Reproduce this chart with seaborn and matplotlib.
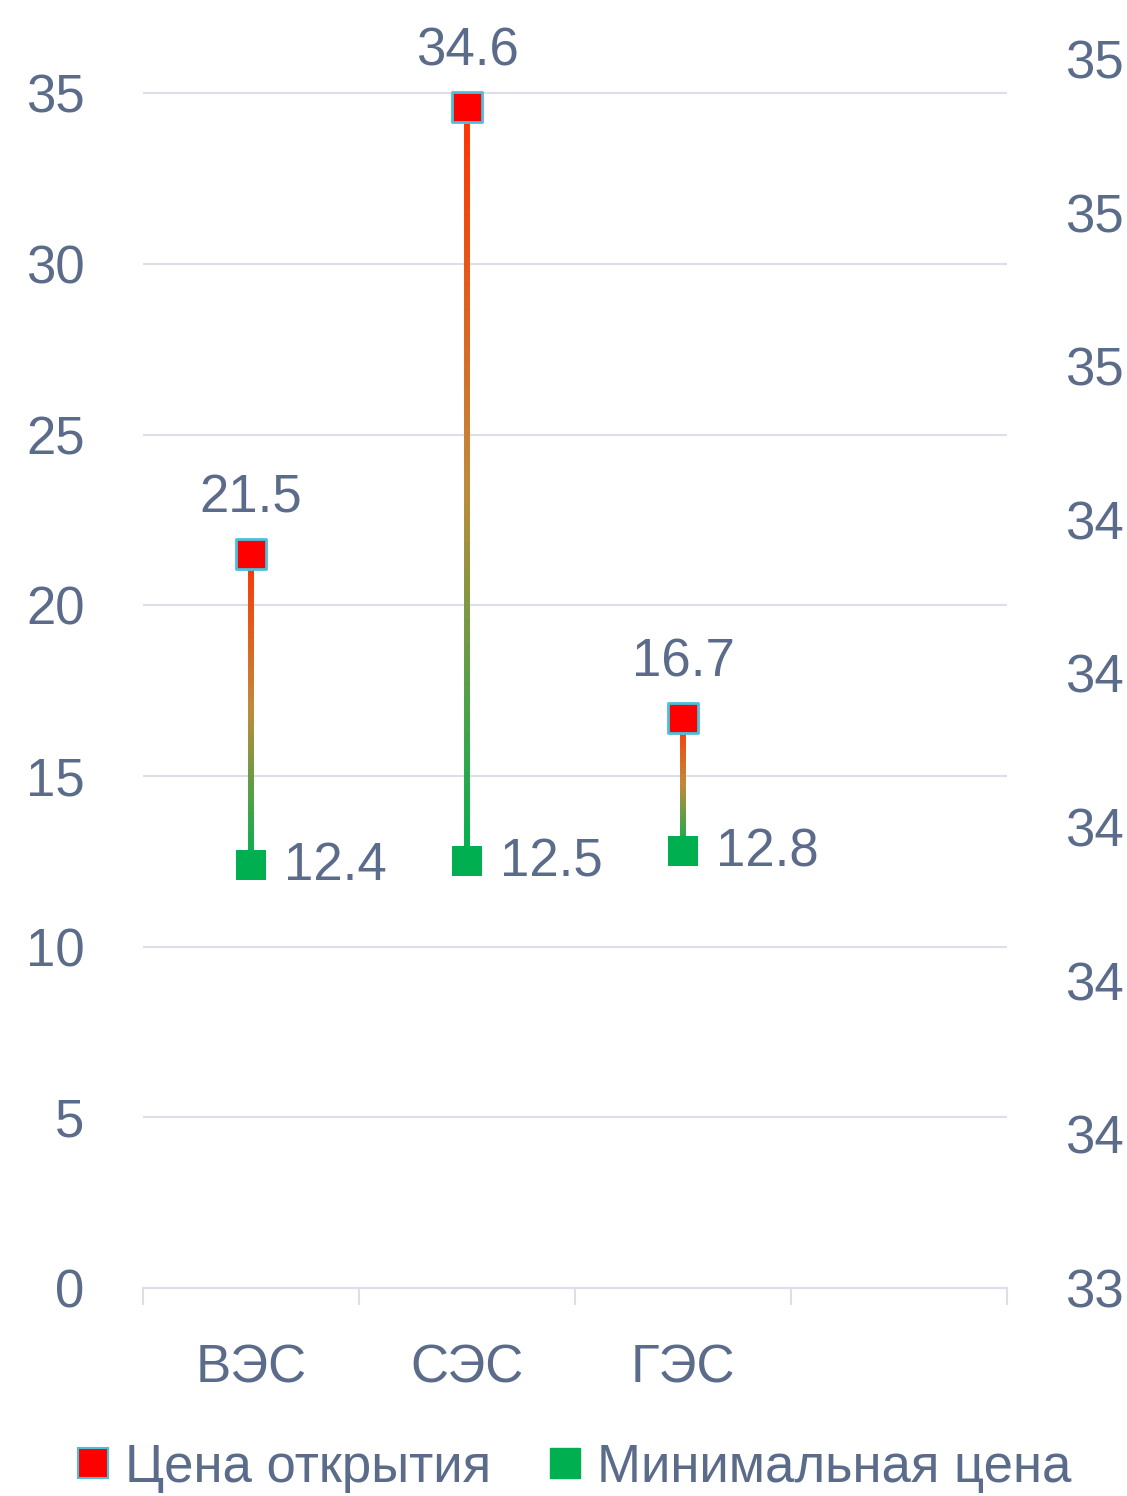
import matplotlib
matplotlib.use("Agg")
import matplotlib.pyplot as plt
import numpy as np
import pandas as pd
import seaborn as sns
from matplotlib.collections import LineCollection
from matplotlib.colors import LinearSegmentedColormap
from matplotlib.lines import Line2D

categories = ["ВЭС", "СЭС", "ГЭС"]
open_price = [21.5, 34.6, 16.7]
min_price = [12.4, 12.5, 12.8]
series_names = ["Цена открытия", "Минимальная цена"]
right_ticks = [33.4, 33.6, 33.8, 34.0, 34.2, 34.4, 34.6, 34.8, 35.0]

TEXT = "#5b6b8a"
GRID = "#dcdee8"
RED = "#ff0000"
GREEN = "#00b050"
FS = 38

sns.set_style("white")
plt.rcParams["font.family"] = ["Liberation Sans Narrow", "Liberation Sans", "DejaVu Sans"]

fig = plt.figure(figsize=(11.27, 14.96), dpi=100)
ax = fig.add_axes([0.1269, 0.139, 0.7666, 0.8216])

df = pd.DataFrame({"x": np.arange(len(categories)), "open": open_price, "min": min_price})

# gradient stems, green at bottom -> red at top
cmap = LinearSegmentedColormap.from_list("stem", [GREEN, "#c08a3a", "#ff3300"])
for _, r in df.iterrows():
    ys = np.linspace(r["min"], r["open"], 60)
    pts = np.array([[r["x"], y] for y in ys]).reshape(-1, 1, 2)
    segs = np.concatenate([pts[:-1], pts[1:]], axis=1)
    lc = LineCollection(segs, cmap=cmap, linewidths=4.3, zorder=2)
    lc.set_array(np.linspace(0, 1, len(segs)))
    ax.add_collection(lc)

sns.scatterplot(data=df, x="x", y="min", marker="s", s=470, color=GREEN,
                edgecolor=GREEN, linewidth=0, ax=ax, zorder=3, legend=False)
sns.scatterplot(data=df, x="x", y="open", marker="s", s=450, color=RED,
                edgecolor="#4bc0da", linewidth=2, ax=ax, zorder=4, legend=False)

for _, r in df.iterrows():
    ax.annotate(f"{r['open']:.1f}", (r["x"], r["open"]), xytext=(0, 22),
                textcoords="offset points", ha="center", va="bottom",
                fontsize=FS, color=TEXT)
    ax.annotate(f"{r['min']:.1f}", (r["x"], r["min"]), xytext=(24, -1),
                textcoords="offset points", ha="left", va="center",
                fontsize=FS, color=TEXT)

ax.set_xlim(-0.5, 3.5)
ax.set_ylim(0, 36)
ax.set_yticks(np.arange(0, 36, 5))
ax.yaxis.grid(True, color=GRID, linewidth=1.5)
ax.set_axisbelow(True)
ax.tick_params(axis="y", length=0, pad=42, labelsize=FS, labelcolor=TEXT)

ax.set_xticks(np.arange(-0.5, 4, 1))
ax.set_xticklabels([])
ax.set_xticks(np.arange(len(categories)), minor=True)
ax.set_xticklabels(categories, minor=True)
ax.tick_params(axis="x", which="major", bottom=True, direction="out",
               length=12, width=1.5, color=GRID)
ax.tick_params(axis="x", which="minor", bottom=True, length=0, pad=40,
               labelsize=FS, labelcolor=TEXT)
ax.set_xlabel("")
ax.set_ylabel("")

for side in ["top", "right", "left"]:
    ax.spines[side].set_visible(False)
ax.spines["bottom"].set_color(GRID)
ax.spines["bottom"].set_linewidth(1.5)

ax2 = ax.twinx()
ax2.set_ylim(33.4, 35.0)
ax2.set_yticks(right_ticks)
ax2.set_yticklabels([f"{round(v + 1e-9):.0f}" for v in right_ticks])
ax2.tick_params(axis="y", length=0, pad=42, labelsize=FS, labelcolor=TEXT)
for side in ["top", "right", "left", "bottom"]:
    ax2.spines[side].set_visible(False)

handles = [
    Line2D([], [], marker="s", linestyle="none", markersize=21, markerfacecolor=RED,
           markeredgecolor="#4bc0da", markeredgewidth=1.5),
    Line2D([], [], marker="s", linestyle="none", markersize=22, markerfacecolor=GREEN,
           markeredgecolor=GREEN),
]
leg = fig.legend(handles, series_names, loc="center", bbox_to_anchor=(0.505, 0.019),
                 ncol=2, frameon=False, fontsize=FS, handletextpad=0.1,
                 columnspacing=0.9, handlelength=1.0)
for t in leg.get_texts():
    t.set_color(TEXT)

fig.savefig("out.png", dpi=100)
